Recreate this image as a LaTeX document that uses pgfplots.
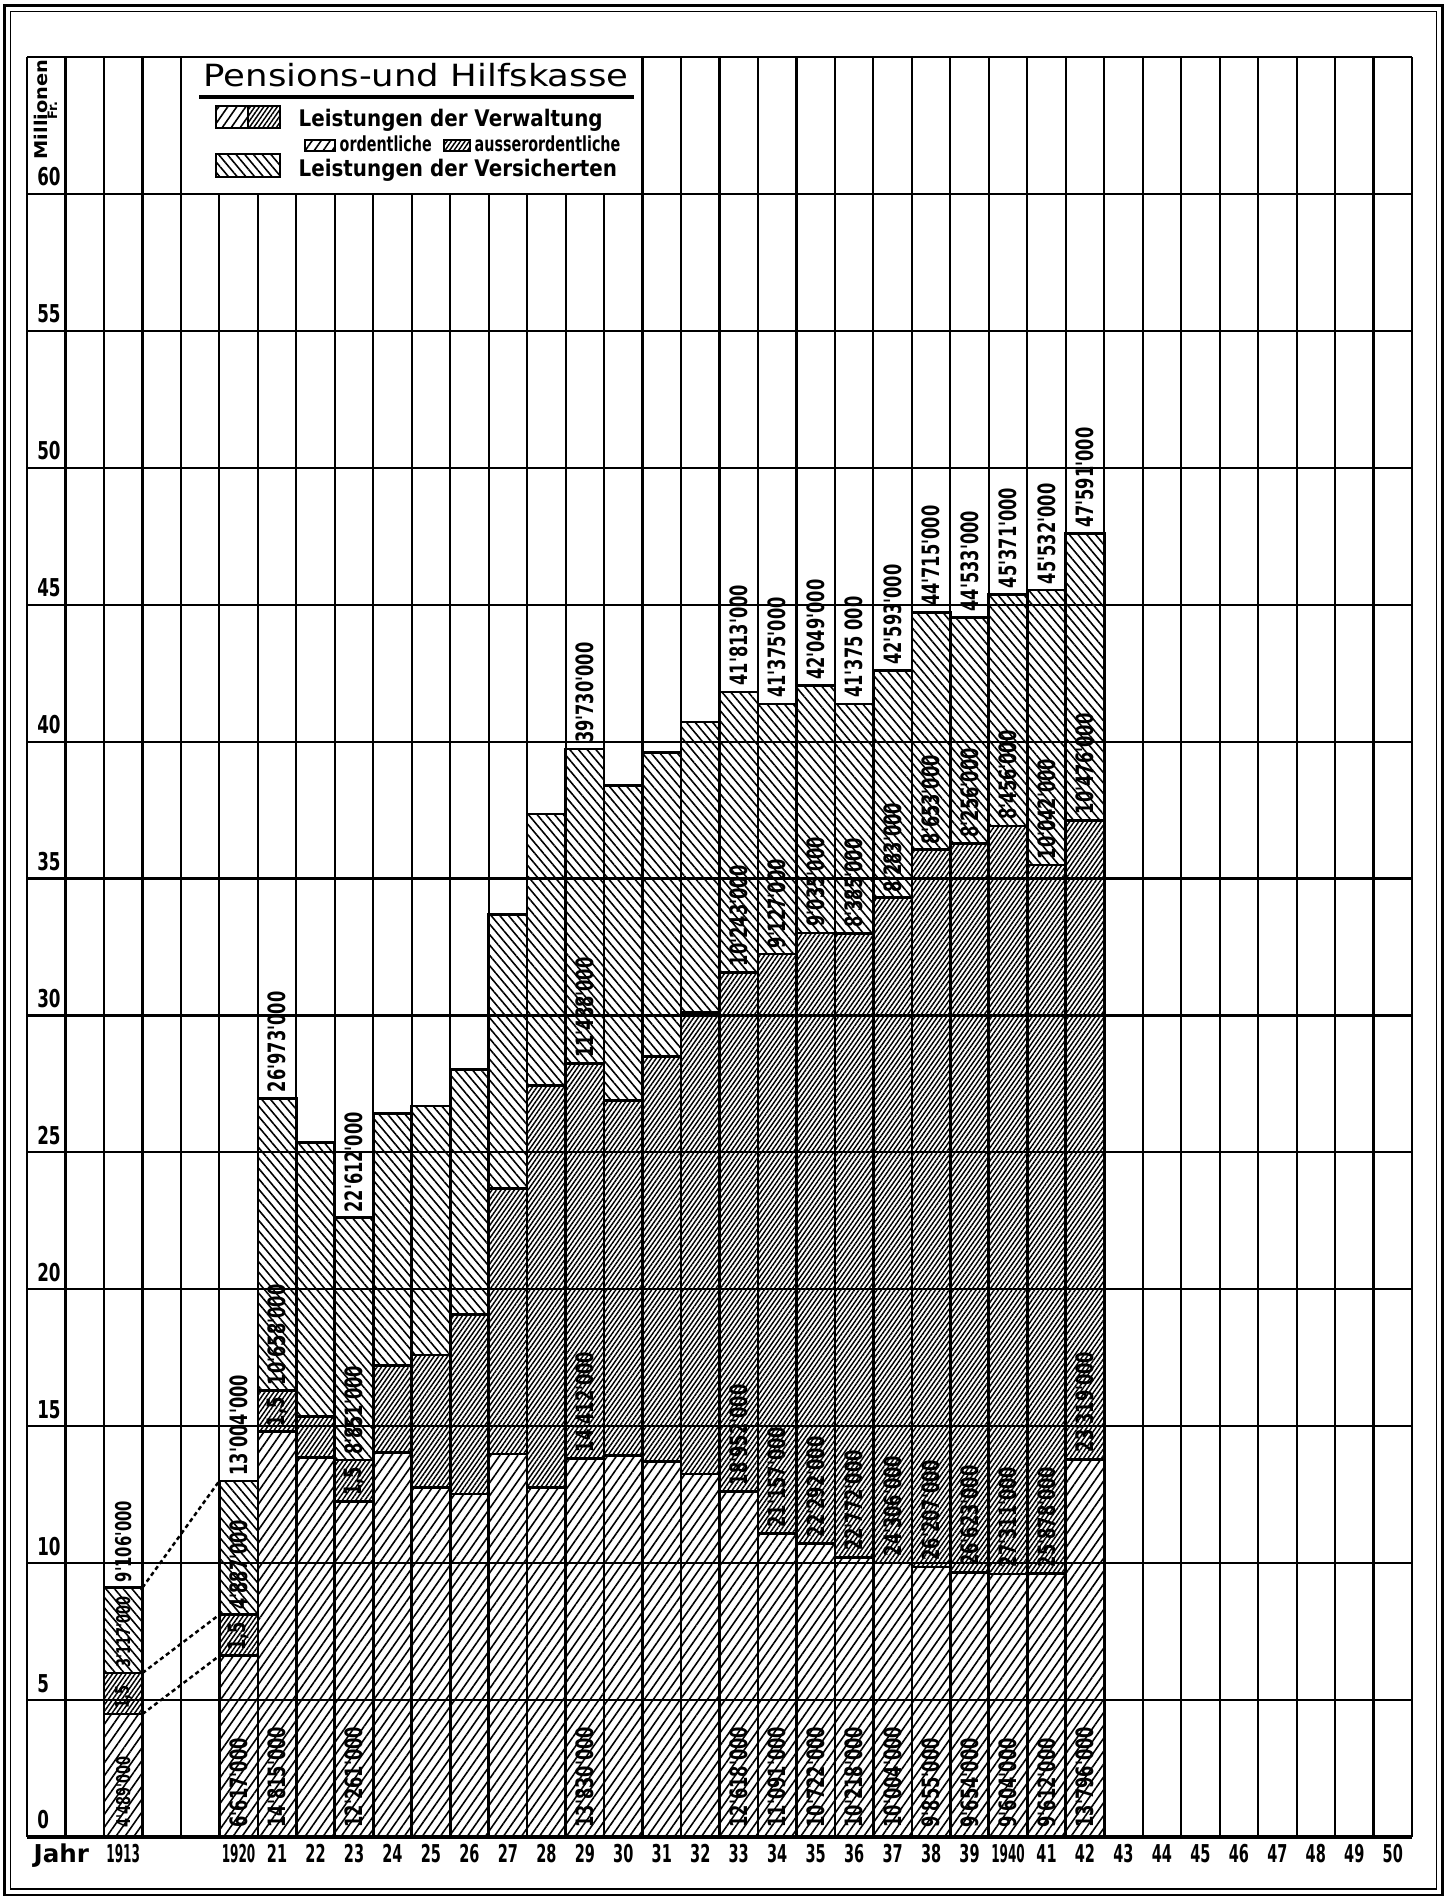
\documentclass[border=0pt]{standalone}
\usepackage{fontspec}
\setmainfont{DejaVu Sans}
\newfontfamily\labfont{DejaVu Sans}[FakeStretch=0.68]
\newfontfamily\yfont{DejaVu Sans}[FakeStretch=0.68]
\newfontfamily\xfont{DejaVu Sans}[FakeStretch=0.59]
\newfontfamily\xfontc{DejaVu Sans}[FakeStretch=0.49]
\newfontfamily\jahrfont{DejaVu Sans}[FakeStretch=1.0]
\newfontfamily\legfont{DejaVu Sans}[FakeStretch=0.87]
\newfontfamily\sublegfont{DejaVu Sans}[FakeStretch=0.69]
\newfontfamily\titlefont{DejaVu Sans}[FakeStretch=1.16]
\newfontfamily\milfont{DejaVu Sans}[FakeStretch=1.1]
\usepackage{pgfplots}
\pgfplotsset{compat=1.18}
\usetikzlibrary{patterns.meta}

\tikzset{
 ordpat/.style={pattern={Lines[angle=55,distance=2.1pt,line width=0.45pt]},pattern color=black},
 auspat/.style={pattern={Lines[angle=55,distance=1.05pt,line width=0.42pt]},pattern color=black},
 verpat/.style={pattern={Lines[angle=-50,distance=1.9pt,line width=0.45pt]},pattern color=black},
 dlab/.style={rotate=90, anchor=west, inner sep=0.6pt, fill=white, fill opacity=0.85, text opacity=1,
   font=\labfont\bfseries\fontsize{6.8}{6.8}\selectfont},
 tlab/.style={rotate=90, anchor=west, inner sep=0.6pt, fill=white,
   font=\labfont\bfseries\fontsize{6.8}{6.8}\selectfont},
 dlabs/.style={dlab, font=\labfont\bfseries\fontsize{5.4}{5.4}\selectfont},
 tlabs/.style={tlab, font=\labfont\bfseries\fontsize{6.2}{6.2}\selectfont},
 xlab/.style={anchor=base, inner sep=0pt, font=\xfont\bfseries\fontsize{7}{7}\selectfont},
 xlabc/.style={anchor=base, inner sep=0pt, font=\xfontc\bfseries\fontsize{7}{7}\selectfont},
}
\newcommand{\dl}[3]{\node[dlab] at (axis cs:#1,#2) {#3};}
\newcommand{\tl}[3]{\node[tlab] at (axis cs:#1,#2) {#3};}
\newcommand{\dls}[3]{\node[dlabs] at (axis cs:#1,#2) {#3};}
\newcommand{\tls}[3]{\node[tlabs] at (axis cs:#1,#2) {#3};}
\newcommand{\xl}[2]{\node[xlab] at (axis cs:#1,-0.92) {#2};}
\newcommand{\xlc}[2]{\node[xlabc] at (axis cs:#1,-0.92) {#2};}

\pgfplotsset{frameaxis/.style={at={(2.7mm,6.2mm)}, anchor=south west, scale only axis,
  width=138.5mm, height=178mm, xmin=0, xmax=36, ymin=0, ymax=65, axis lines=none, clip=false}}

\begin{document}
\begin{tikzpicture}
\useasboundingbox (0,0) rectangle (144.7mm,189.9mm);
\draw[line width=0.85pt] (0.45mm,0.4mm) rectangle (144.25mm,189.35mm);
\draw[line width=0.55pt] (1.05mm,1.0mm) rectangle (143.65mm,188.75mm);

% dashed connectors 1913 -> 1920
\begin{axis}[frameaxis]
\addplot[black, line width=0.7pt, dash pattern=on 1.2pt off 0.9pt, no marks] coordinates {(3,9.106) (5,13.004)};
\addplot[black, line width=0.7pt, dash pattern=on 1.2pt off 0.9pt, no marks] coordinates {(3,5.989) (5,8.117)};
\addplot[black, line width=0.7pt, dash pattern=on 1.2pt off 0.9pt, no marks] coordinates {(3,4.489) (5,6.617)};
\end{axis}

\begin{axis}[frameaxis, ybar stacked, bar width=1]
% ordentliche Leistungen der Verwaltung
\addplot[draw=black, line width=0.75pt, ordpat] coordinates {
(2.5,4.489) (5.5,6.617) (6.5,14.815) (7.5,13.85) (8.5,12.261) (9.5,14.05) (10.5,12.76)
(11.5,12.52) (12.5,13.98) (13.5,12.76) (14.5,13.83) (15.5,13.93) (16.5,13.71) (17.5,13.25)
(18.5,12.618) (19.5,11.091) (20.5,10.722) (21.5,10.218) (22.5,10.004) (23.5,9.855)
(24.5,9.654) (25.5,9.604) (26.5,9.612) (27.5,13.796)};
% ausserordentliche Leistungen der Verwaltung
\addplot[draw=black, line width=0.75pt, auspat] coordinates {
(2.5,1.5) (5.5,1.5) (6.5,1.5) (7.5,1.5) (8.5,1.5) (9.5,3.16) (10.5,4.84)
(11.5,6.57) (12.5,9.71) (13.5,14.69) (14.5,14.412) (15.5,12.97) (16.5,14.79) (17.5,16.85)
(18.5,18.952) (19.5,21.157) (20.5,22.292) (21.5,22.772) (22.5,24.306) (23.5,26.207)
(24.5,26.623) (25.5,27.311) (26.5,25.878) (27.5,23.319)};
% Leistungen der Versicherten
\addplot[draw=black, line width=0.75pt, verpat] coordinates {
(2.5,3.117) (5.5,4.887) (6.5,10.658) (7.5,10.0) (8.5,8.851) (9.5,9.21) (10.5,9.09)
(11.5,8.94) (12.5,10.0) (13.5,9.91) (14.5,11.488) (15.5,11.5) (16.5,11.1) (17.5,10.62)
(18.5,10.243) (19.5,9.127) (20.5,9.035) (21.5,8.385) (22.5,8.283) (23.5,8.653)
(24.5,8.256) (25.5,8.456) (26.5,10.042) (27.5,10.476)};

% grid
\pgfplotsinvokeforeach{0,1,...,36}{\draw[line width=0.62pt] (axis cs:#1,0) -- (axis cs:#1,65);}
\pgfplotsinvokeforeach{5,10,...,65}{\draw[line width=0.62pt] (axis cs:0,#1) -- (axis cs:36,#1);}
\draw[line width=1.1pt] (axis cs:0,0) -- (axis cs:36,0);

% y labels
\pgfplotsinvokeforeach{0,5,...,60}{\node[anchor=south west, inner sep=0pt, yshift=0.7mm,
  font=\yfont\bfseries\fontsize{7}{7}\selectfont] at (axis cs:0.25,#1) {#1};}

% x labels
\xlc{2.5}{1913}\xlc{5.5}{1920}
\xl{6.5}{21}\xl{7.5}{22}\xl{8.5}{23}\xl{9.5}{24}\xl{10.5}{25}\xl{11.5}{26}\xl{12.5}{27}
\xl{13.5}{28}\xl{14.5}{29}\xl{15.5}{30}\xl{16.5}{31}\xl{17.5}{32}\xl{18.5}{33}\xl{19.5}{34}
\xl{20.5}{35}\xl{21.5}{36}\xl{22.5}{37}\xl{23.5}{38}\xl{24.5}{39}\xlc{25.5}{1940}\xl{26.5}{41}
\xl{27.5}{42}\xl{28.5}{43}\xl{29.5}{44}\xl{30.5}{45}\xl{31.5}{46}\xl{32.5}{47}\xl{33.5}{48}
\xl{34.5}{49}\xl{35.5}{50}

% value labels
\dls{2.5}{0.25}{4'489'000}\dls{2.5}{4.6}{1,5}\dls{2.5}{6.1}{3'117'000}\tls{2.5}{9.2}{9'106'000}
\dl{5.5}{0.25}{6'617'000}\dl{5.5}{6.7}{1,5}\dl{5.5}{8.2}{4'887'000}\tl{5.5}{13.1}{13'004'000}
\dl{6.5}{0.25}{14'815'000}\dl{6.5}{14.9}{1,5}\dl{6.5}{16.4}{10'658'000}\tl{6.5}{27.1}{26'973'000}
\dl{8.5}{0.25}{12'261'000}\dl{8.5}{12.35}{1,5}\dl{8.5}{13.85}{8'851'000}\tl{8.5}{22.7}{22'612'000}
\dl{14.5}{0.25}{13'830'000}\dl{14.5}{13.95}{14'412'000}\dl{14.5}{28.35}{11'488'000}\tl{14.5}{39.85}{39'730'000}
\dl{18.5}{0.25}{12'618'000}\dl{18.5}{12.75}{18'952'000}\dl{18.5}{31.7}{10'243'000}\tl{18.5}{41.95}{41'813'000}
\dl{19.5}{0.25}{11'091'000}\dl{19.5}{11.2}{21'157'000}\dl{19.5}{32.35}{9'127'000}\tl{19.5}{41.5}{41'375'000}
\dl{20.5}{0.25}{10'722'000}\dl{20.5}{10.85}{22'292'000}\dl{20.5}{33.15}{9'035'000}\tl{20.5}{42.15}{42'049'000}
\dl{21.5}{0.25}{10'218'000}\dl{21.5}{10.35}{22'772'000}\dl{21.5}{33.1}{8'385'000}\tl{21.5}{41.5}{41'375 000}
\dl{22.5}{0.25}{10'004'000}\dl{22.5}{10.15}{24'306'000}\dl{22.5}{34.4}{8'283'000}\tl{22.5}{42.7}{42'593'000}
\dl{23.5}{0.25}{9'855'000}\dl{23.5}{10.0}{26'207'000}\dl{23.5}{36.15}{8'653'000}\tl{23.5}{44.85}{44'715'000}
\dl{24.5}{0.25}{9'654'000}\dl{24.5}{9.8}{26'623'000}\dl{24.5}{36.4}{8'256'000}\tl{24.5}{44.65}{44'533'000}
\dl{25.5}{0.25}{9'604'000}\dl{25.5}{9.75}{27'311'000}\dl{25.5}{37.05}{8'456'000}\tl{25.5}{45.5}{45'371'000}
\dl{26.5}{0.25}{9'612'000}\dl{26.5}{9.75}{25'878'000}\dl{26.5}{35.6}{10'042'000}\tl{26.5}{45.65}{45'532'000}
\dl{27.5}{0.25}{13'796'000}\dl{27.5}{13.95}{23'319'000}\dl{27.5}{37.25}{10'476'000}\tl{27.5}{47.7}{47'591'000}
\end{axis}

% legend, title and side texts (coordinates in image pixels, origin bottom left)
\begin{scope}[x=0.1mm, y=0.1mm]
\draw[line width=0.62pt, fill=white] (181,1705) rectangle (642.5,1842);
\node[anchor=base, inner sep=0pt, font=\titlefont\fontsize{8.7}{8.7}\selectfont] at (416,1812) {Pensions-und Hilfskasse};
\draw[line width=0.9pt] (199,1802) -- (634,1802);
\fill[ordpat] (216,1771) rectangle (248,1793);
\fill[auspat] (248,1771) rectangle (280,1793);
\draw[line width=0.6pt] (216,1771) rectangle (280,1793) (248,1771) -- (248,1793);
\node[anchor=base west, inner sep=0pt, font=\legfont\bfseries\fontsize{6.5}{6.5}\selectfont] at (298,1772) {Leistungen der Verwaltung};
\fill[ordpat] (305,1748) rectangle (335,1759);
\draw[line width=0.5pt] (305,1748) rectangle (335,1759);
\node[anchor=base west, inner sep=0pt, font=\sublegfont\bfseries\fontsize{5.9}{5.9}\selectfont] at (339,1747) {ordentliche};
\fill[auspat] (444,1748) rectangle (470,1759);
\draw[line width=0.5pt] (444,1748) rectangle (470,1759);
\node[anchor=base west, inner sep=0pt, font=\sublegfont\bfseries\fontsize{5.9}{5.9}\selectfont] at (474,1747) {ausserordentliche};
\fill[verpat] (216,1722) rectangle (280,1745);
\draw[line width=0.6pt] (216,1722) rectangle (280,1745);
\node[anchor=base west, inner sep=0pt, font=\legfont\bfseries\fontsize{6.5}{6.5}\selectfont] at (298,1722) {Leistungen der Versicherten};
% Millionen Fr.
\node[rotate=90, anchor=base west, inner sep=0pt, font=\milfont\bfseries\fontsize{5}{5}\selectfont] at (47,1739) {Millionen};
\node[rotate=90, anchor=base west, inner sep=0pt, font=\bfseries\fontsize{3.7}{3.7}\selectfont] at (57,1779) {Fr.};
% Jahr
\node[anchor=base west, inner sep=0pt, font=\jahrfont\bfseries\fontsize{7}{7}\selectfont] at (33,37) {Jahr};
\end{scope}
\end{tikzpicture}
\end{document}
